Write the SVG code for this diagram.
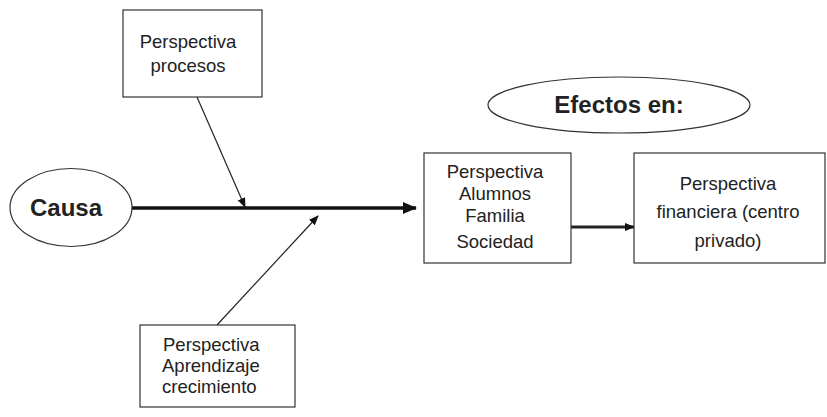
<svg xmlns="http://www.w3.org/2000/svg" width="827" height="417" viewBox="0 0 827 417">
  <style>
    .box { fill: #fff; stroke: #333; stroke-width: 1.2; }
    .oval { fill: #fff; stroke: #333; stroke-width: 1.2; }
    .txt { font-family: "Liberation Sans", Arial, sans-serif; font-size: 18.5px; fill: #222; }
    .big { font-family: "Liberation Sans", Arial, sans-serif; font-size: 24px; font-weight: bold; fill: #222; }
    .thin { stroke: #222; stroke-width: 1.2; fill: none; }
    .thick { stroke: #111; stroke-width: 3.5; fill: none; }
  </style>
  <defs>
    <marker id="arrowThin" markerWidth="10" markerHeight="8" refX="9" refY="4" orient="auto" markerUnits="userSpaceOnUse">
      <path d="M0,0 L10,4 L0,8 Z" fill="#111"/>
    </marker>
    <marker id="arrowThick" markerWidth="14" markerHeight="12" refX="13" refY="6" orient="auto" markerUnits="userSpaceOnUse">
      <path d="M0,0 L14,6 L0,12 Z" fill="#111"/>
    </marker>
    <marker id="arrowMid" markerWidth="10" markerHeight="8" refX="9" refY="4" orient="auto" markerUnits="userSpaceOnUse">
      <path d="M0,0 L10,4 L0,8 Z" fill="#111"/>
    </marker>
  </defs>

  <g id="connectors">
    <line class="thick" x1="124" y1="208" x2="416" y2="208" marker-end="url(#arrowThick)"/>
    <line class="thin" x1="197" y1="97" x2="245" y2="207" marker-end="url(#arrowThin)"/>
    <line class="thin" x1="217" y1="325" x2="318" y2="216" marker-end="url(#arrowThin)"/>
    <line class="thin" style="stroke-width:3" x1="571" y1="227" x2="634" y2="227" marker-end="url(#arrowMid)"/>
  </g>

  <g id="causa">
    <ellipse class="oval" cx="71" cy="207.5" rx="61" ry="39"/>
    <text class="big" x="66" y="216" text-anchor="middle">Causa</text>
  </g>

  <g id="procesos">
    <rect class="box" x="123" y="10" width="139" height="87"/>
    <text class="txt" x="188" y="48" text-anchor="middle">Perspectiva</text>
    <text class="txt" x="188" y="72" text-anchor="middle">procesos</text>
  </g>

  <g id="aprendizaje">
    <rect class="box" x="140" y="325" width="155" height="82"/>
    <text class="txt" x="163" y="351">Perspectiva</text>
    <text class="txt" x="162" y="372">Aprendizaje</text>
    <text class="txt" x="162" y="393">crecimiento</text>
  </g>

  <g id="efectos">
    <ellipse class="oval" cx="619" cy="105" rx="131" ry="28"/>
    <text class="big" x="619" y="113" text-anchor="middle">Efectos en:</text>
  </g>

  <g id="alumnos">
    <rect class="box" x="424" y="153" width="147" height="110"/>
    <text class="txt" x="495" y="178" text-anchor="middle">Perspectiva</text>
    <text class="txt" x="495" y="200" text-anchor="middle">Alumnos</text>
    <text class="txt" x="495" y="222" text-anchor="middle">Familia</text>
    <text class="txt" x="495" y="248" text-anchor="middle">Sociedad</text>
  </g>

  <g id="financiera">
    <rect class="box" x="634" y="153" width="191" height="110"/>
    <text class="txt" x="728" y="190" text-anchor="middle">Perspectiva</text>
    <text class="txt" x="728" y="218" text-anchor="middle">financiera (centro</text>
    <text class="txt" x="728" y="247" text-anchor="middle">privado)</text>
  </g>
</svg>
